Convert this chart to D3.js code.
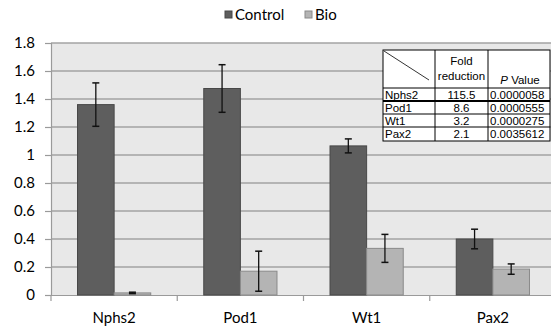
<!DOCTYPE html>
<meta charset="utf-8">
<style>
  body { margin: 0; background: #fff; }
  .axis text { font-family: Lato, "Open Sans", sans-serif; font-size: 15px; fill: #000; }
  .legend text { font-family: Lato, "Open Sans", sans-serif; font-size: 15px; fill: #000; }
  .tbl text { font-family: "Liberation Sans", Arial, sans-serif; font-size: 11.5px; fill: #000; }
</style>
<body>
<script src="https://d3js.org/d3.v7.min.js"></script>
<script>
// chart data
var genes = ["Nphs2", "Pod1", "Wt1", "Pax2"];
var series = ["Control", "Bio"];
var controlVals = [1.36, 1.475, 1.065, 0.40];
var controlErr = [0.155, 0.17, 0.05, 0.07];
var bioVals = [0.015, 0.17, 0.333, 0.185];
var bioErr = [0.005, 0.143, 0.1, 0.037];
var yTicks = [0, 0.2, 0.4, 0.6, 0.8, 1, 1.2, 1.4, 1.6, 1.8];

// inset table
var tblHead = ["", "Fold\nreduction", "P Value"];
var tblFold = ["115.5", "8.6", "3.2", "2.1"];
var tblP = ["0.0000058", "0.0000555", "0.0000275", "0.0035612"];

var width = 551, height = 330;
var colors = {Control: "#5e5e5e", Bio: "#b4b4b4"};
var strokes = {Control: "#484848", Bio: "#8a8a8a"};

var svg = d3.select("body").append("svg")
    .attr("width", width)
    .attr("height", height);

var x = d3.scaleBand().domain(genes).range([51, 556]);
var y = d3.scaleLinear().domain([0, 1.8]).range([295, 43]);
var barW = x.bandwidth() * 0.29;

// plot background
svg.append("rect")
    .attr("x", 51).attr("y", y(1.8))
    .attr("width", width - 51).attr("height", y(0) - y(1.8))
    .attr("fill", "#e8e8e8");

// gridlines
svg.append("g").selectAll("line")
    .data(yTicks.slice(1))
  .enter().append("line")
    .attr("x1", 51).attr("x2", width)
    .attr("y1", function(d) { return y(d); })
    .attr("y2", function(d) { return y(d); })
    .attr("stroke", "#a3a3a3")
    .attr("stroke-width", 1.5);

// y axis
var yAxis = svg.append("g")
    .attr("class", "axis")
    .attr("transform", "translate(51,0)")
    .call(d3.axisLeft(y).tickValues(yTicks).tickSize(6).tickPadding(10)
      .tickFormat(function(d) { return d3.format("")(d); }));
yAxis.selectAll("line").attr("stroke", "#9a9a9a").attr("stroke-width", 1.2);
yAxis.select(".domain").attr("stroke", "#9a9a9a").attr("stroke-width", 1.2);

// x axis
var xAxis = svg.append("g")
    .attr("class", "axis")
    .attr("transform", "translate(0,295)")
    .call(d3.axisBottom(x).tickSize(0).tickPadding(17));
xAxis.select(".domain").attr("stroke", "#9a9a9a").attr("stroke-width", 1.2);
xAxis.selectAll(".sep")
    .data(genes)
  .enter().append("line")
    .attr("class", "sep")
    .attr("x1", function(d) { return x(d); })
    .attr("x2", function(d) { return x(d); })
    .attr("y1", 0).attr("y2", 6)
    .attr("stroke", "#9a9a9a").attr("stroke-width", 1.2);

// bars
var rows = genes.map(function(g, i) {
  return [
    {gene: g, s: "Control", v: controlVals[i], e: controlErr[i], off: x.bandwidth() / 2 - barW},
    {gene: g, s: "Bio", v: bioVals[i], e: bioErr[i], off: x.bandwidth() / 2}
  ];
});
var flat = [].concat.apply([], rows);

svg.append("g").selectAll("rect")
    .data(flat)
  .enter().append("rect")
    .attr("x", function(d) { return x(d.gene) + d.off; })
    .attr("y", function(d) { return y(d.v); })
    .attr("width", barW)
    .attr("height", function(d) { return y(0) - y(d.v); })
    .attr("fill", function(d) { return colors[d.s]; })
    .attr("stroke", function(d) { return strokes[d.s]; })
    .attr("stroke-width", 1);

// error bars
var eb = svg.append("g").selectAll("g")
    .data(flat)
  .enter().append("g")
    .attr("transform", function(d) { return "translate(" + (x(d.gene) + d.off + barW / 2) + ",0)"; });
eb.append("line")
    .attr("y1", function(d) { return y(d.v + d.e); })
    .attr("y2", function(d) { return y(d.v - d.e); })
    .attr("stroke", "#111").attr("stroke-width", 1.3);
eb.selectAll(".cap")
    .data(function(d) { return [d.v + d.e, d.v - d.e]; })
  .enter().append("line")
    .attr("x1", -3.5).attr("x2", 3.5)
    .attr("y1", function(d) { return y(d); })
    .attr("y2", function(d) { return y(d); })
    .attr("stroke", "#111").attr("stroke-width", 1.5);

// legend
var legend = svg.append("g").attr("class", "legend");
var legX = [225, 305];
series.forEach(function(s, i) {
  legend.append("rect")
    .attr("x", legX[i]).attr("y", 11)
    .attr("width", 7).attr("height", 7)
    .attr("fill", colors[s]).attr("stroke", strokes[s]);
  legend.append("text")
    .attr("x", legX[i] + 10).attr("y", 20)
    .text(s);
});

// inset table
var tbl = svg.append("g").attr("class", "tbl");
var tx = [383, 435, 488, 550];
var ty = [50, 88, 101, 114, 127, 141];
tbl.append("rect")
    .attr("x", tx[0]).attr("y", ty[0])
    .attr("width", tx[3] - tx[0]).attr("height", ty[5] - ty[0])
    .attr("fill", "#fff").attr("stroke", "#000").attr("stroke-width", 1);
tx.slice(1, 3).forEach(function(v) {
  tbl.append("line").attr("x1", v).attr("x2", v).attr("y1", ty[0]).attr("y2", ty[5])
    .attr("stroke", "#000");
});
ty.slice(1, 5).forEach(function(v, i) {
  tbl.append("line").attr("x1", tx[0]).attr("x2", tx[3]).attr("y1", v).attr("y2", v)
    .attr("stroke", "#000").attr("stroke-width", i === 1 ? 2 : 1);
});
tbl.append("line")
    .attr("x1", tx[0] + 1).attr("y1", ty[0] + 1)
    .attr("x2", tx[1] - 6).attr("y2", ty[1] - 8)
    .attr("stroke", "#000").attr("stroke-width", 0.8);
tbl.append("text").attr("x", (tx[1] + tx[2]) / 2).attr("y", 65)
    .attr("text-anchor", "middle").text(tblHead[1].split("\n")[0]);
tbl.append("text").attr("x", (tx[1] + tx[2]) / 2).attr("y", 80)
    .attr("text-anchor", "middle").text(tblHead[1].split("\n")[1]);
var pv = tbl.append("text").attr("x", (tx[2] + tx[3]) / 2 + 1).attr("y", 84)
    .attr("text-anchor", "middle");
pv.append("tspan").attr("font-style", "italic").text(tblHead[2].split(" ")[0]);
pv.append("tspan").text(" " + tblHead[2].split(" ")[1]);
genes.forEach(function(g, i) {
  var base = ty[i + 1] + 10.5;
  tbl.append("text").attr("x", tx[0] + 2).attr("y", base).text(g);
  tbl.append("text").attr("x", (tx[1] + tx[2]) / 2).attr("y", base)
    .attr("text-anchor", "middle").text(tblFold[i]);
  tbl.append("text").attr("x", tx[2] + 2).attr("y", base).text(tblP[i]);
});
</script>
</body>
